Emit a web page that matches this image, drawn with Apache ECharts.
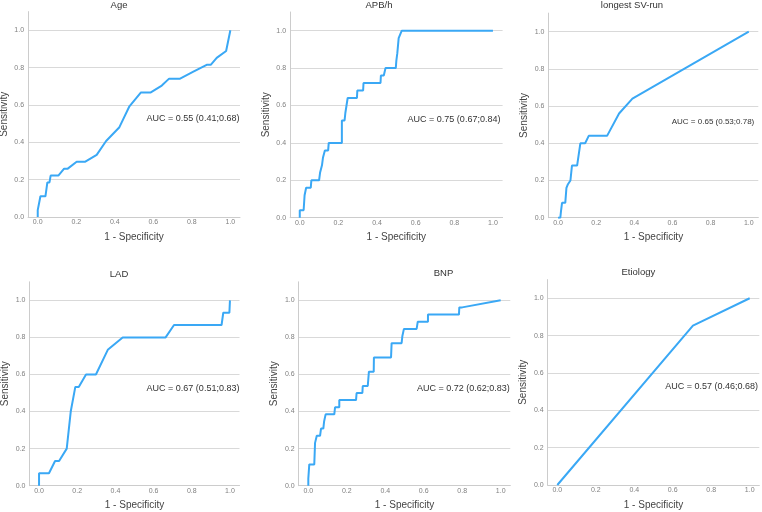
<!DOCTYPE html>
<html lang="en">
<head>
<meta charset="UTF-8">
<title>ROC curves</title>
<script src="https://cdn.jsdelivr.net/npm/echarts@6/dist/echarts.min.js"></script>
<style>
    html, body { margin: 0; padding: 0; background: #ffffff; }
    #main { width: 762px; height: 512px; }
</style>
</head>
<body>
<div id="main"></div>
<script type="text/javascript">
    // tick labels shared by both axes of every panel
    var tickValues = [0, 0.2, 0.4, 0.6, 0.8, 1.0];

    var panelTitles = ['Age', 'APB/h', 'longest SV-run', 'LAD', 'BNP', 'Etiology'];
    var aucLabels = [
        'AUC = 0.55 (0.41;0.68)',
        'AUC = 0.75 (0.67;0.84)',
        'AUC = 0.65 (0.53;0.78)',
        'AUC = 0.67 (0.51;0.83)',
        'AUC = 0.72 (0.62;0.83)',
        'AUC = 0.57 (0.46;0.68)'
    ];

    // [1 - specificity, sensitivity]
    var ageRoc = [[0, 0], [0, 0.037], [0.01, 0.037], [0.014, 0.111], [0.04, 0.111], [0.05, 0.185], [0.061, 0.185],
        [0.067, 0.222], [0.107, 0.222], [0.137, 0.259], [0.156, 0.259], [0.202, 0.296], [0.247, 0.296],
        [0.306, 0.333], [0.355, 0.407], [0.424, 0.481], [0.476, 0.593], [0.536, 0.667], [0.587, 0.667],
        [0.644, 0.704], [0.682, 0.741], [0.739, 0.741], [0.808, 0.778], [0.877, 0.815], [0.898, 0.815],
        [0.929, 0.852], [0.978, 0.889], [1, 1]];
    var apbRoc = [[0, 0], [0, 0.04], [0.02, 0.04], [0.025, 0.12], [0.033, 0.16], [0.057, 0.16], [0.06, 0.2],
        [0.1, 0.2], [0.105, 0.24], [0.115, 0.28], [0.12, 0.32], [0.13, 0.36], [0.147, 0.36], [0.15, 0.4],
        [0.218, 0.4], [0.218, 0.52], [0.232, 0.52], [0.236, 0.56], [0.242, 0.6], [0.248, 0.64], [0.296, 0.64],
        [0.298, 0.68], [0.328, 0.68], [0.33, 0.72], [0.418, 0.72], [0.42, 0.76], [0.435, 0.76], [0.444, 0.8],
        [0.497, 0.8], [0.5, 0.84], [0.505, 0.88], [0.512, 0.96], [0.528, 1], [1, 1]];
    var svRunRoc = [[0, 0], [0.012, 0], [0.016, 0.04], [0.021, 0.08], [0.038, 0.08], [0.044, 0.16], [0.052, 0.18],
        [0.065, 0.2], [0.073, 0.2], [0.073, 0.28], [0.1, 0.28], [0.117, 0.4], [0.142, 0.4], [0.161, 0.44],
        [0.257, 0.44], [0.32, 0.56], [0.39, 0.64], [1, 1]];
    var ladRoc = [[0, 0], [0, 0.067], [0.052, 0.067], [0.084, 0.133], [0.105, 0.133], [0.145, 0.2], [0.166, 0.4],
        [0.19, 0.533], [0.208, 0.533], [0.246, 0.6], [0.298, 0.6], [0.36, 0.733], [0.438, 0.8], [0.663, 0.8],
        [0.707, 0.867], [0.956, 0.867], [0.965, 0.933], [0.997, 0.933], [1, 1]];
    var bnpRoc = [[0, 0], [0, 0.038], [0.005, 0.038], [0.005, 0.115], [0.031, 0.115], [0.035, 0.231], [0.044, 0.231],
        [0.044, 0.269], [0.061, 0.269], [0.066, 0.308], [0.078, 0.308], [0.082, 0.346], [0.09, 0.346],
        [0.09, 0.385], [0.135, 0.385], [0.139, 0.423], [0.161, 0.423], [0.161, 0.462], [0.248, 0.462],
        [0.251, 0.5], [0.281, 0.5], [0.283, 0.538], [0.309, 0.538], [0.312, 0.577], [0.315, 0.615],
        [0.34, 0.615], [0.341, 0.692], [0.43, 0.692], [0.433, 0.769], [0.485, 0.769], [0.489, 0.808],
        [0.497, 0.808], [0.497, 0.846], [0.563, 0.846], [0.569, 0.885], [0.622, 0.885], [0.622, 0.923],
        [0.783, 0.923], [0.785, 0.962], [0.8, 0.962], [1, 1]];
    var etiologyRoc = [[0, 0], [0.705, 0.854], [1, 1]];

    var rocData = [ageRoc, apbRoc, svRunRoc, ladRoc, bnpRoc, etiologyRoc];

    // plot boxes: left, top, width, height (px)
    var boxes = [
        [28.1, 11.6, 211.9, 205.4],
        [290.1, 12, 212.5, 205.7],
        [548.5, 13.1, 209.8, 204.6],
        [29.5, 281.8, 210, 203.9],
        [298.7, 281.8, 211.6, 203.9],
        [547.7, 279.6, 211.6, 205.4]
    ];
    var titlePos = [[119, 5], [379, 5], [632, 5], [119, 274], [443.5, 273.3], [638.3, 272.7]];
    var aucPos = [[193, 119], [454, 119.3], [713, 121.3], [193, 388.3], [463.4, 389], [711.7, 387]];
    var aucSize = [9, 9, 8, 9, 9, 9];

    var fontName = "'Liberation Sans', Arial, sans-serif";
    var lineColor = '#3AA8F5';

    var grids = [], xAxes = [], yAxes = [], seriesList = [], texts = [];
    for (var i = 0; i < rocData.length; i++) {
        var b = boxes[i];
        grids.push({ left: b[0], top: b[1], width: b[2], height: b[3], containLabel: false, outerBoundsMode: 'none' });
        xAxes.push({
            gridIndex: i, type: 'value', min: -0.05, max: 1.05,
            name: '1 - Specificity', nameLocation: 'middle', nameGap: 15,
            nameTextStyle: { fontSize: 10, color: '#444', fontFamily: fontName },
            axisLine: { show: true, onZero: false, lineStyle: { color: '#cccccc', width: 1 } },
            axisTick: { show: false, customValues: tickValues },
            axisLabel: {
                customValues: tickValues, fontSize: 7, color: '#808080', margin: 2, fontFamily: fontName,
                formatter: function (v) { return v.toFixed(1); }
            },
            splitLine: { show: false }
        });
        yAxes.push({
            gridIndex: i, type: 'value', min: 0, max: 1.1,
            name: 'Sensitivity', nameLocation: 'middle', nameGap: 19,
            nameTextStyle: { fontSize: 10, color: '#444', fontFamily: fontName },
            axisLine: { show: true, onZero: false, lineStyle: { color: '#cccccc', width: 1 } },
            axisTick: { show: false, customValues: tickValues },
            axisLabel: {
                customValues: tickValues, fontSize: 7, color: '#808080', margin: 4, fontFamily: fontName,
                formatter: function (v) { return v.toFixed(1); }
            },
            splitLine: { show: true, lineStyle: { color: '#d9d9d9', width: 1 } }
        });
        seriesList.push({
            type: 'line', xAxisIndex: i, yAxisIndex: i,
            data: rocData[i], symbol: 'none', showSymbol: false,
            lineStyle: { color: lineColor, width: 2 },
            silent: true
        });
        texts.push({
            type: 'text', x: titlePos[i][0], y: titlePos[i][1],
            style: { text: panelTitles[i], fill: '#333', font: '9.5px ' + fontName, textAlign: 'center', textVerticalAlign: 'middle' }
        });
        texts.push({
            type: 'text', x: aucPos[i][0], y: aucPos[i][1],
            style: { text: aucLabels[i], fill: '#333', font: aucSize[i] + 'px ' + fontName, textAlign: 'center', textVerticalAlign: 'middle' }
        });
    }

    var chart = echarts.init(document.getElementById('main'));
    chart.setOption({
        backgroundColor: '#ffffff',
        animation: false,
        grid: grids,
        xAxis: xAxes,
        yAxis: yAxes,
        series: seriesList,
        graphic: texts
    });
</script>
</body>
</html>
